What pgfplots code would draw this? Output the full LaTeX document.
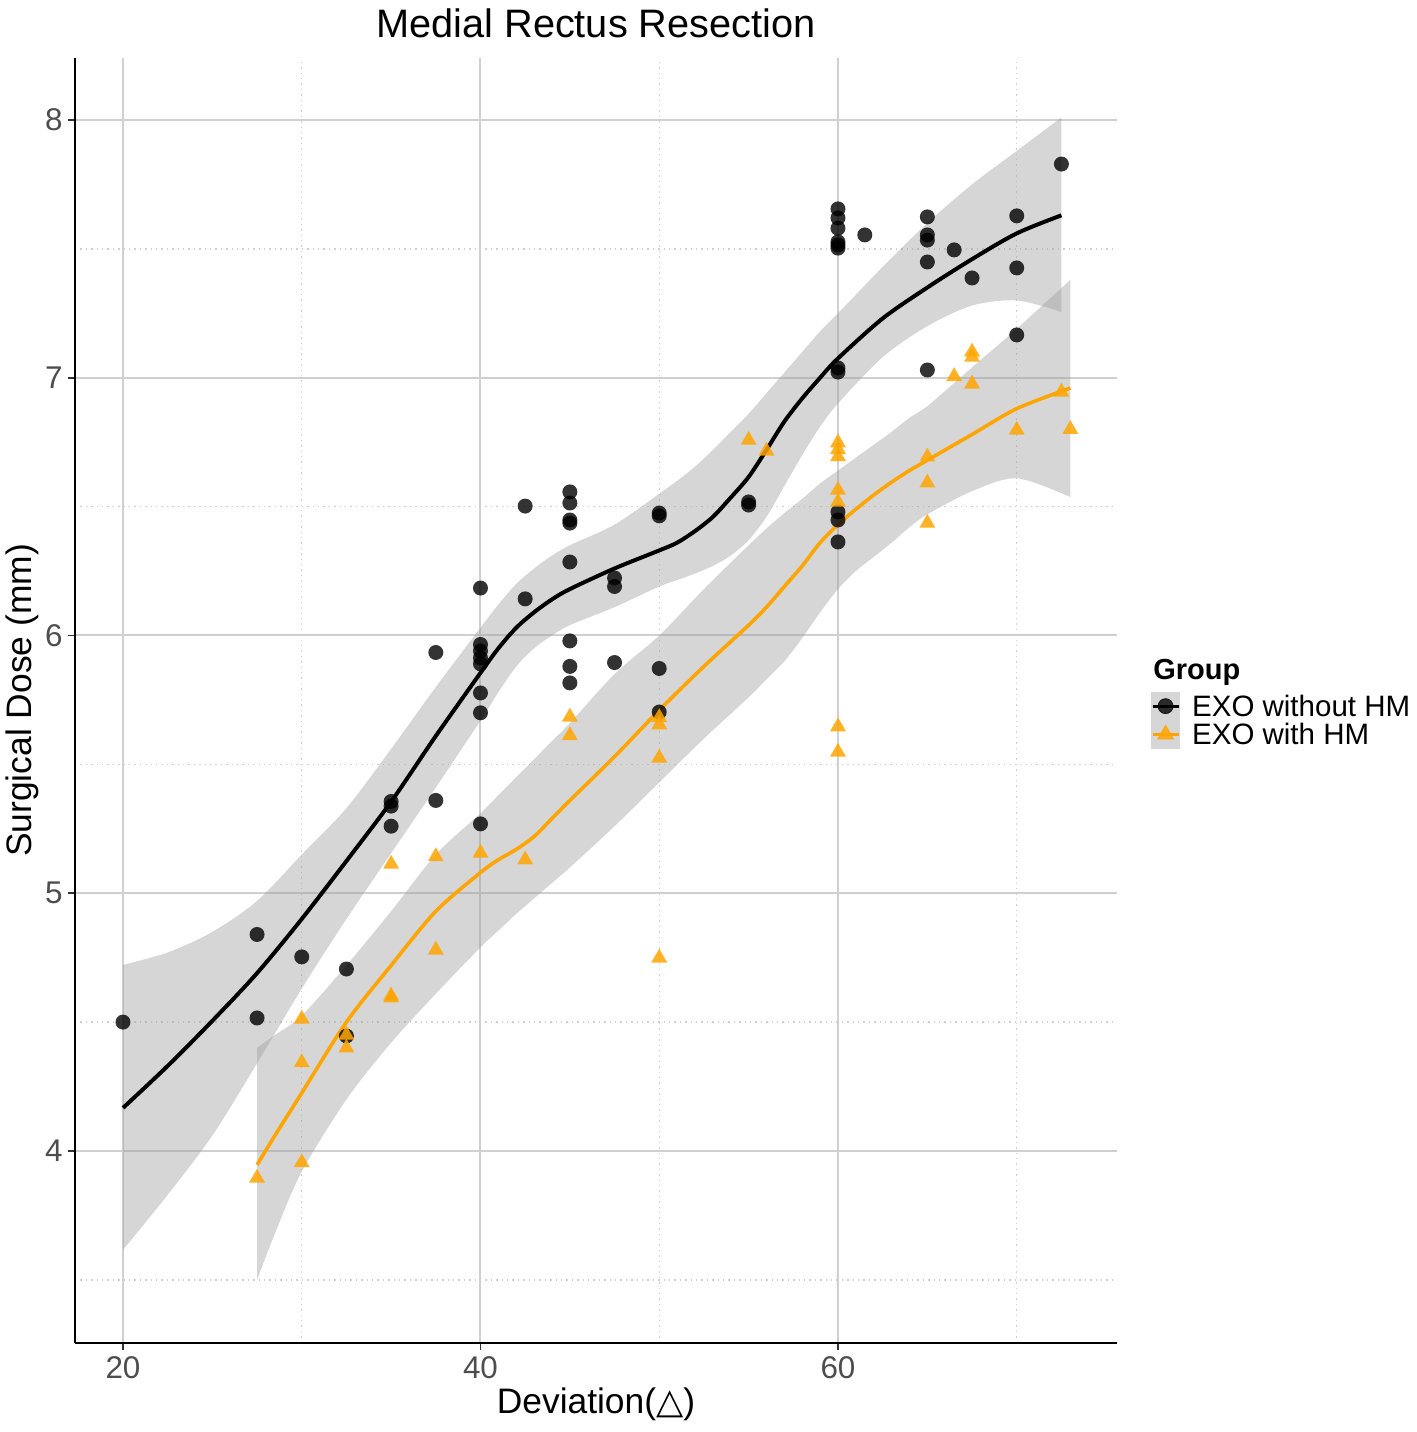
\documentclass[border=0pt]{standalone}
\usepackage{fontspec}
\setmainfont{Liberation Sans}
\newfontfamily\djv{DejaVu Sans}
\usepackage{pgfplots}
\usepackage{pgfplotstable}
\pgfplotsset{compat=1.18}
\usepgfplotslibrary{fillbetween}
\definecolor{orng}{HTML}{FFA500}
\definecolor{rib}{HTML}{999999}
\definecolor{tickc}{HTML}{4D4D4D}
\definecolor{gridc}{HTML}{D0D0D0}
\definecolor{keyg}{HTML}{D6D6D6}

\pgfplotstableread{
x y
20 4.50
27.5 4.84
27.5 4.516
30 4.753
32.5 4.706
32.5 4.446
35 5.356
35 5.338
35 5.26
37.5 5.934
37.5 5.360
40 6.184
40 5.965
40 5.940
40 5.913
40 5.89
40 5.777
40 5.70
40 5.269
42.5 6.502
42.5 6.142
45 6.557
45 6.514
45 6.448
45 6.436
45 6.285
45 5.979
45 5.880
45 5.816
47.5 6.223
47.5 6.190
47.5 5.895
50 6.475
50 6.464
50 5.872
50 5.703
55 6.518
55 6.506
60 7.655
60 7.620
60 7.580
60 7.527
60 7.515
60 7.503
60 7.038
60 7.022
60 6.479
60 6.448
60 6.363
61.5 7.554
65 7.624
65 7.554
65 7.534
65 7.449
65 7.030
66.5 7.496
67.5 7.387
70 7.628
70 7.426
70 7.166
72.5 7.829
}\blackpts

\pgfplotstableread{
x y
27.5 3.895
30 3.955
30 4.512
30 4.343
32.5 4.45
32.5 4.40
35 4.594
35 4.602
35 5.113
37.5 5.142
37.5 4.780
40 5.156
42.5 5.130
45 5.684
45 5.612
50 5.682
50 5.654
50 5.525
50 4.749
55 6.758
56 6.716
60 6.748
60 6.722
60 6.694
60 6.564
60 6.518
60 5.646
60 5.548
65 6.693
65 6.592
65 6.436
66.5 7.005
67.5 7.100
67.5 7.080
67.5 6.976
70 6.797
72.5 6.945
73 6.800
}\orangepts

\pgfplotstableread{
x fit lo hi
20 4.167 3.616 4.722
22.5 4.330 3.830 4.770
25 4.505 4.060 4.850
27.5 4.690 4.340 4.970
30 4.900 4.630 5.150
32.5 5.125 4.900 5.330
35 5.355 5.155 5.560
37.5 5.610 5.410 5.800
40 5.855 5.670 6.030
41 5.950 5.780 6.120
42 6.030 5.880 6.200
43 6.090 5.950 6.260
44 6.140 6.000 6.310
45 6.180 6.040 6.350
47.5 6.260 6.110 6.430
50 6.330 6.190 6.550
51 6.360 6.215 6.600
52 6.405 6.240 6.655
53 6.460 6.270 6.720
54 6.535 6.310 6.790
55 6.615 6.370 6.860
56 6.720 6.460 6.940
57 6.830 6.580 7.020
58 6.920 6.700 7.100
59 7.000 6.810 7.180
60 7.075 6.900 7.250
62.5 7.230 7.080 7.430
65 7.350 7.200 7.600
67.5 7.460 7.280 7.750
70 7.560 7.300 7.880
72.5 7.630 7.255 8.010
}\blackfit

\pgfplotstableread{
x fit lo hi
27.5 3.946 3.500 4.400
28.5 4.060 3.680 4.450
30 4.225 3.920 4.525
32.5 4.500 4.200 4.720
35 4.720 4.420 4.930
37.5 4.930 4.610 5.150
40 5.080 4.790 5.310
41 5.130 4.855 5.380
42 5.170 4.920 5.450
43 5.220 4.980 5.520
44 5.290 5.040 5.590
45 5.360 5.100 5.660
47.5 5.530 5.260 5.850
50 5.710 5.430 6.000
52.5 5.880 5.600 6.180
55 6.040 5.760 6.350
56 6.110 5.830 6.415
57 6.190 5.900 6.475
58 6.270 5.990 6.530
59 6.360 6.090 6.590
60 6.430 6.180 6.640
61 6.490 6.250 6.690
62 6.545 6.305 6.740
63 6.595 6.360 6.790
64 6.640 6.420 6.845
65 6.680 6.470 6.890
67.5 6.780 6.560 7.040
70 6.880 6.610 7.190
73 6.960 6.537 7.380
}\orangefit

\begin{document}
\begin{tikzpicture}
\begin{axis}[
  at={(0pt,0pt)}, anchor=south west,
  width=521pt, height=642.5pt, scale only axis,
  xmin=17.315, xmax=75.61, ymin=3.255, ymax=8.2405,
  clip=false,
  axis x line*=bottom, axis y line*=left,
  axis line style={-, black, line width=1pt},
  xtick={20,40,60}, minor xtick={30,50,70},
  ytick={4,5,6,7,8}, minor ytick={3.5,4.5,5.5,6.5,7.5},
  grid=both,
  major grid style={gridc, line width=1pt},
  minor grid style={gridc, line width=0.7pt, dotted},
  tick align=outside,
  major tick length=3.5pt, minor tick length=0pt,
  tick style={color=black!80, line width=0.8pt},
  /pgf/number format/assume math mode=true,
  ticklabel style={font=\fontsize{15.7}{18}\selectfont, text=tickc},
  xticklabel style={anchor=north, inner sep=0pt, yshift=-3pt},
  yticklabel style={anchor=east, inner sep=0pt, xshift=-2.5pt},
  title={Medial Rectus Resection},
  title style={at={(axis description cs:0.5,1)}, anchor=base, yshift=4pt, font=\fontsize{19.85}{22}\selectfont},
  xlabel={Deviation({\djv △})},
  xlabel style={at={(axis description cs:0.5,0)}, anchor=base, yshift=-35pt, font=\fontsize{17.7}{20}\selectfont},
  ylabel={Surgical Dose (mm)},
  ylabel style={at={(axis description cs:-0.04127,0.5)}, anchor=base, font=\fontsize{17.7}{20}\selectfont},
  legend style={at={(1.0326,0.5066)}, anchor=north west, draw=none, fill=none,
    inner sep=0pt, outer sep=0pt, row sep=0pt, /tikz/column sep=6pt,
    font=\fontsize{14.75}{16}\selectfont,
    nodes={inner sep=0pt, text height=12pt, text depth=1.75pt}},
  legend cell align=left,
]
% points
\addplot[only marks, black, mark=*, mark size=3.75pt, forget plot,
  mark options={fill=black, draw opacity=0, line width=0pt, fill opacity=0.8}] table[x=x,y=y] {\blackpts};
\addplot[only marks, orng, mark=triangle*, mark size=4.6pt, forget plot,
  mark options={fill=orng, draw opacity=0, line width=0pt, fill opacity=0.85}] table[x=x,y=y] {\orangepts};
% black ribbon and line
\addplot[name path=bhi, draw=none, smooth, forget plot] table[x=x,y=hi] {\blackfit};
\addplot[name path=blo, draw=none, smooth, forget plot] table[x=x,y=lo] {\blackfit};
\addplot[fill=rib, fill opacity=0.4, draw=none, forget plot] fill between[of=bhi and blo];
\addplot[black, line width=2pt, smooth, forget plot] table[x=x,y=fit] {\blackfit};
% orange ribbon and line
\addplot[name path=ohi, draw=none, smooth, forget plot] table[x=x,y=hi] {\orangefit};
\addplot[name path=olo, draw=none, smooth, forget plot] table[x=x,y=lo] {\orangefit};
\addplot[fill=rib, fill opacity=0.4, draw=none, forget plot] fill between[of=ohi and olo];
\addplot[orng, line width=1.8pt, smooth, forget plot] table[x=x,y=fit] {\orangefit};
% legend
\addlegendimage{legend image code/.code={
  \fill[keyg] (0pt,-6.875pt) rectangle (14pt,6.875pt);
  \fill[black, opacity=0.8] (7pt,0pt) circle (3.75pt);
  \draw[black, line width=1.6pt] (0.5pt,0pt) -- (13.5pt,0pt);
}}
\addlegendentry{EXO without HM}
\addlegendimage{legend image code/.code={
  \fill[keyg] (0pt,-6.875pt) rectangle (14pt,6.875pt);
  \fill[orng, opacity=0.85] (7pt,4.6pt) -- (10.98pt,-2.3pt) -- (3.02pt,-2.3pt) -- cycle;
  \draw[orng, line width=1.5pt] (0.5pt,0pt) -- (13.5pt,0pt);
}}
\addlegendentry{EXO with HM}
\node[anchor=base west, inner sep=0pt, font=\bfseries\fontsize{14.5}{16}\selectfont]
  at (axis description cs:1.0345,0.5160) {Group};
\end{axis}
\pgfresetboundingbox
\path[use as bounding box] (-37.5pt,-44.5pt) rectangle (671pt,671.5pt);
\end{tikzpicture}
\end{document}
